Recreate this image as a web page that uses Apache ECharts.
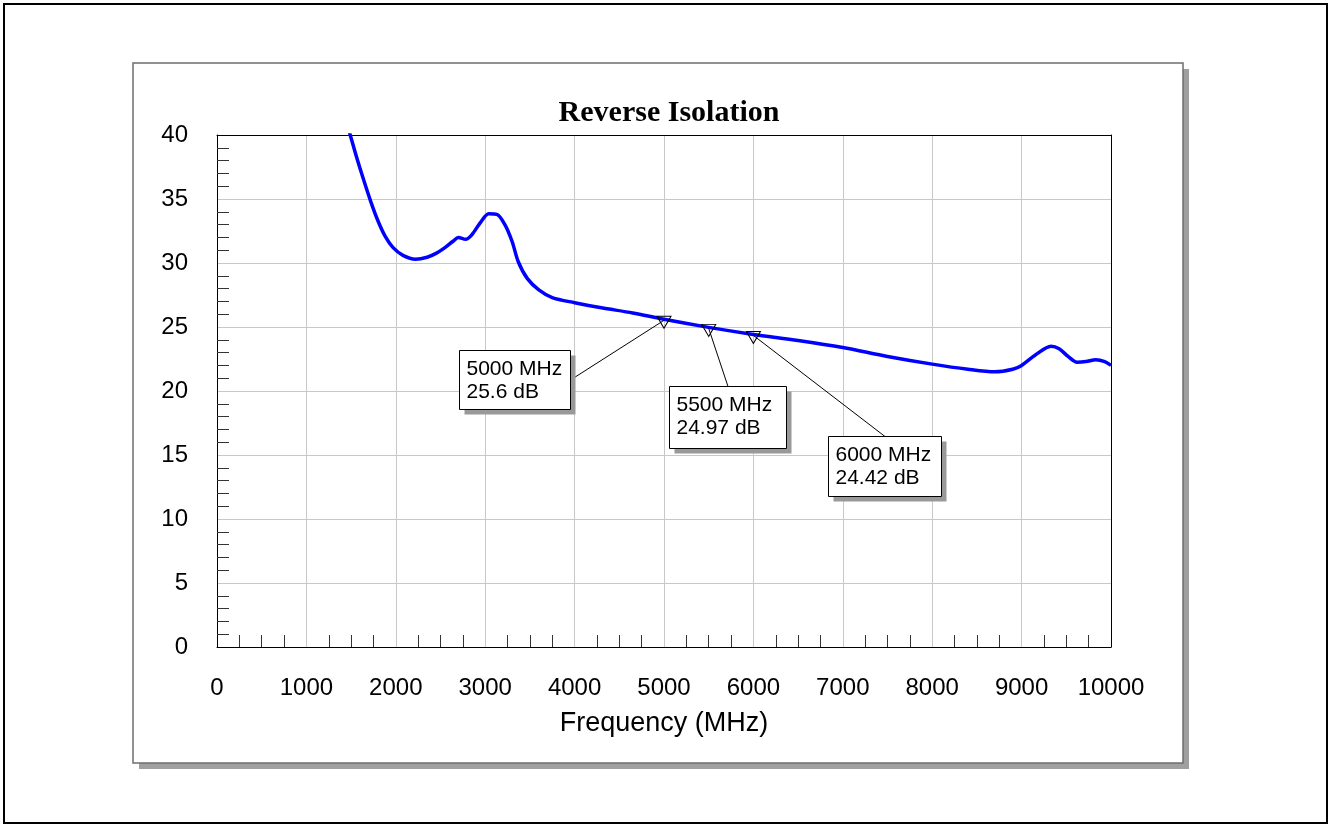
<!DOCTYPE html>
<html>
<head>
<meta charset="utf-8">
<title>Reverse Isolation</title>
<script src="https://cdn.jsdelivr.net/npm/echarts@6/dist/echarts.min.js"></script>
<style>
html, body { margin: 0; padding: 0; background: #fff; }
#main { width: 1331px; height: 827px; }
</style>
</head>
<body>
<div id="main"></div>
<script>
// frequency sweep (MHz) and reverse isolation (dB)
var freq = [1400, 1490, 1560, 1640, 1720, 1800, 1880, 1970, 2080, 2220, 2350, 2450, 2550, 2640, 2700, 2780, 2850, 2950,
	3040, 3130, 3220, 3300, 3370, 3470, 3600, 3750, 4000, 4300, 4650, 5000, 5500, 6000, 6500, 7000, 7500,
	8000, 8400, 8700, 8900, 9000, 9150, 9330, 9420, 9520, 9620, 9720, 9830, 9930, 10000];
var isoDb = [42.0, 40.0, 38.3, 36.5, 34.8, 33.3, 32.1, 31.2, 30.6, 30.3, 30.45, 30.75, 31.2, 31.7, 32.0, 31.85, 32.2, 33.2,
	33.85, 33.8, 33.0, 31.7, 30.1, 28.8, 27.9, 27.3, 26.9, 26.5, 26.1, 25.6, 24.97, 24.42, 23.95, 23.4, 22.7,
	22.1, 21.7, 21.5, 21.7, 22.0, 22.8, 23.5, 23.3, 22.7, 22.25, 22.3, 22.45, 22.3, 22.0];

// markers
var markerFreq = [5000, 5500, 6000];
var markerDb = [25.6, 24.97, 24.42];

(function() {
	var dom = document.getElementById("main");
	var myChart = echarts.init(dom);

	var lineData = [];
	for (var i = 0; i < freq.length; i++) {
		lineData.push([freq[i], isoDb[i]]);
	}
	var markData = [];
	for (var j = 0; j < markerFreq.length; j++) {
		markData.push([markerFreq[j], markerDb[j]]);
	}

	// marker label boxes: offset of box top-left from the marker, box size, leader side
	var boxDx = [-205, -40, 75];
	var boxDy = [31, 59, 102];
	var boxW = [111, 117, 113];
	var boxH = [59, 62, 60];
	var boxSide = ['right', 'top', 'top'];

	var axisFont = 'Liberation Sans, Arial, sans-serif';

	function renderLabel(params, api) {
		var k = params.dataIndex;
		var f = api.value(0), d = api.value(1);
		var pt = api.coord([f, d]);
		var bx = Math.round(pt[0] + boxDx[k]) + 0.5;
		var by = Math.round(pt[1] + boxDy[k]) + 0.5;
		var ax, ay;
		if (boxSide[k] === 'right') {
			ax = bx + boxW[k];
			ay = by + boxH[k] / 2;
		} else {
			ax = bx + boxW[k] / 2;
			ay = by;
		}
		return {
			type: 'group',
			children: [{
				type: 'line',
				shape: { x1: pt[0], y1: pt[1] + 1, x2: ax, y2: ay },
				style: { stroke: '#000', lineWidth: 1 }
			}, {
				type: 'rect',
				shape: { x: bx + 5, y: by + 5, width: boxW[k], height: boxH[k] },
				style: { fill: '#999' }
			}, {
				type: 'rect',
				shape: { x: bx, y: by, width: boxW[k], height: boxH[k] },
				style: { fill: '#fff', stroke: '#000', lineWidth: 1 }
			}, {
				type: 'text',
				style: {
					text: f + ' MHz\n' + d + ' dB',
					x: bx + 7,
					y: by + 7,
					fill: '#000',
					fontFamily: axisFont,
					fontSize: 21,
					lineHeight: 23,
					align: 'left',
					verticalAlign: 'top'
				}
			}]
		};
	}

	var option = {
		backgroundColor: '#fff',
		animation: false,
		title: {
			text: 'Reverse Isolation',
			left: 664,
			top: 93,
			textAlign: 'center',
			textStyle: {
				fontFamily: 'Liberation Serif, Times New Roman, serif',
				fontWeight: 'bold',
				fontSize: 30,
				color: '#000'
			}
		},
		graphic: [{
			type: 'rect',
			z: -10,
			shape: { x: 4, y: 4, width: 1323, height: 819 },
			style: { fill: '#fff', stroke: '#000', lineWidth: 2 }
		}, {
			type: 'rect',
			z: -10,
			shape: { x: 139, y: 69, width: 1050, height: 700 },
			style: { fill: '#a0a0a0' }
		}, {
			type: 'rect',
			z: -9,
			shape: { x: 133, y: 63, width: 1050, height: 700 },
			style: { fill: '#fff', stroke: '#6e6e6e', lineWidth: 1.5 }
		}],
		grid: {
			left: 217,
			top: 135,
			right: 220,
			bottom: 180,
			show: false
		},
		xAxis: [{
			type: 'value',
			min: 0,
			max: 10000,
			interval: 1000,
			name: 'Frequency (MHz)',
			nameLocation: 'middle',
			nameGap: 63,
			nameTextStyle: { fontFamily: axisFont, fontSize: 27, color: '#000' },
			axisLine: { lineStyle: { color: '#000', width: 1 } },
			axisTick: { show: false, inside: true },
			minorTick: { show: true, splitNumber: 4, length: 12, lineStyle: { color: '#333', width: 1 } },
			axisLabel: {
				fontFamily: axisFont, fontSize: 24, color: '#000', margin: 29,
				formatter: function(v) { return String(v); }
			},
			splitLine: { show: true, lineStyle: { color: '#c8c8c8', width: 1 } }
		}, {
			// top frame edge
			type: 'value',
			position: 'top',
			min: 0,
			max: 10000,
			axisLine: { show: true, onZero: false, lineStyle: { color: '#000', width: 1 } },
			axisTick: { show: false },
			axisLabel: { show: false },
			splitLine: { show: false }
		}],
		yAxis: [{
			type: 'value',
			min: 0,
			max: 40,
			interval: 5,
			axisLine: { lineStyle: { color: '#000', width: 1 } },
			axisTick: { show: false, inside: true },
			minorTick: { show: true, splitNumber: 5, length: 12, lineStyle: { color: '#333', width: 1 } },
			axisLabel: { fontFamily: axisFont, fontSize: 24, color: '#000', margin: 29, padding: [6, 0, 0, 0] },
			splitLine: { show: true, lineStyle: { color: '#c8c8c8', width: 1 } }
		}, {
			// right frame edge
			type: 'value',
			position: 'right',
			min: 0,
			max: 40,
			axisLine: { show: true, onZero: false, lineStyle: { color: '#000', width: 1 } },
			axisTick: { show: false },
			axisLabel: { show: false },
			splitLine: { show: false }
		}],
		series: [{
			type: 'line',
			data: lineData,
			smooth: 0.3,
			showSymbol: false,
			clip: true,
			lineStyle: { color: '#0000ff', width: 3.5 },
			itemStyle: { color: '#0000ff' },
			z: 3
		}, {
			type: 'custom',
			data: markData,
			renderItem: renderLabel,
			z: 4
		}, {
			type: 'scatter',
			data: markData,
			symbol: 'triangle',
			symbolRotate: 180,
			symbolSize: [14, 12],
			symbolOffset: [0, 3],
			itemStyle: { color: 'rgba(0,0,0,0)', borderColor: '#000', borderWidth: 1, opacity: 1 },
			z: 5
		}]
	};

	if (option && typeof option === "object") {
		myChart.setOption(option, true);
	}
})();
</script>
</body>
</html>
